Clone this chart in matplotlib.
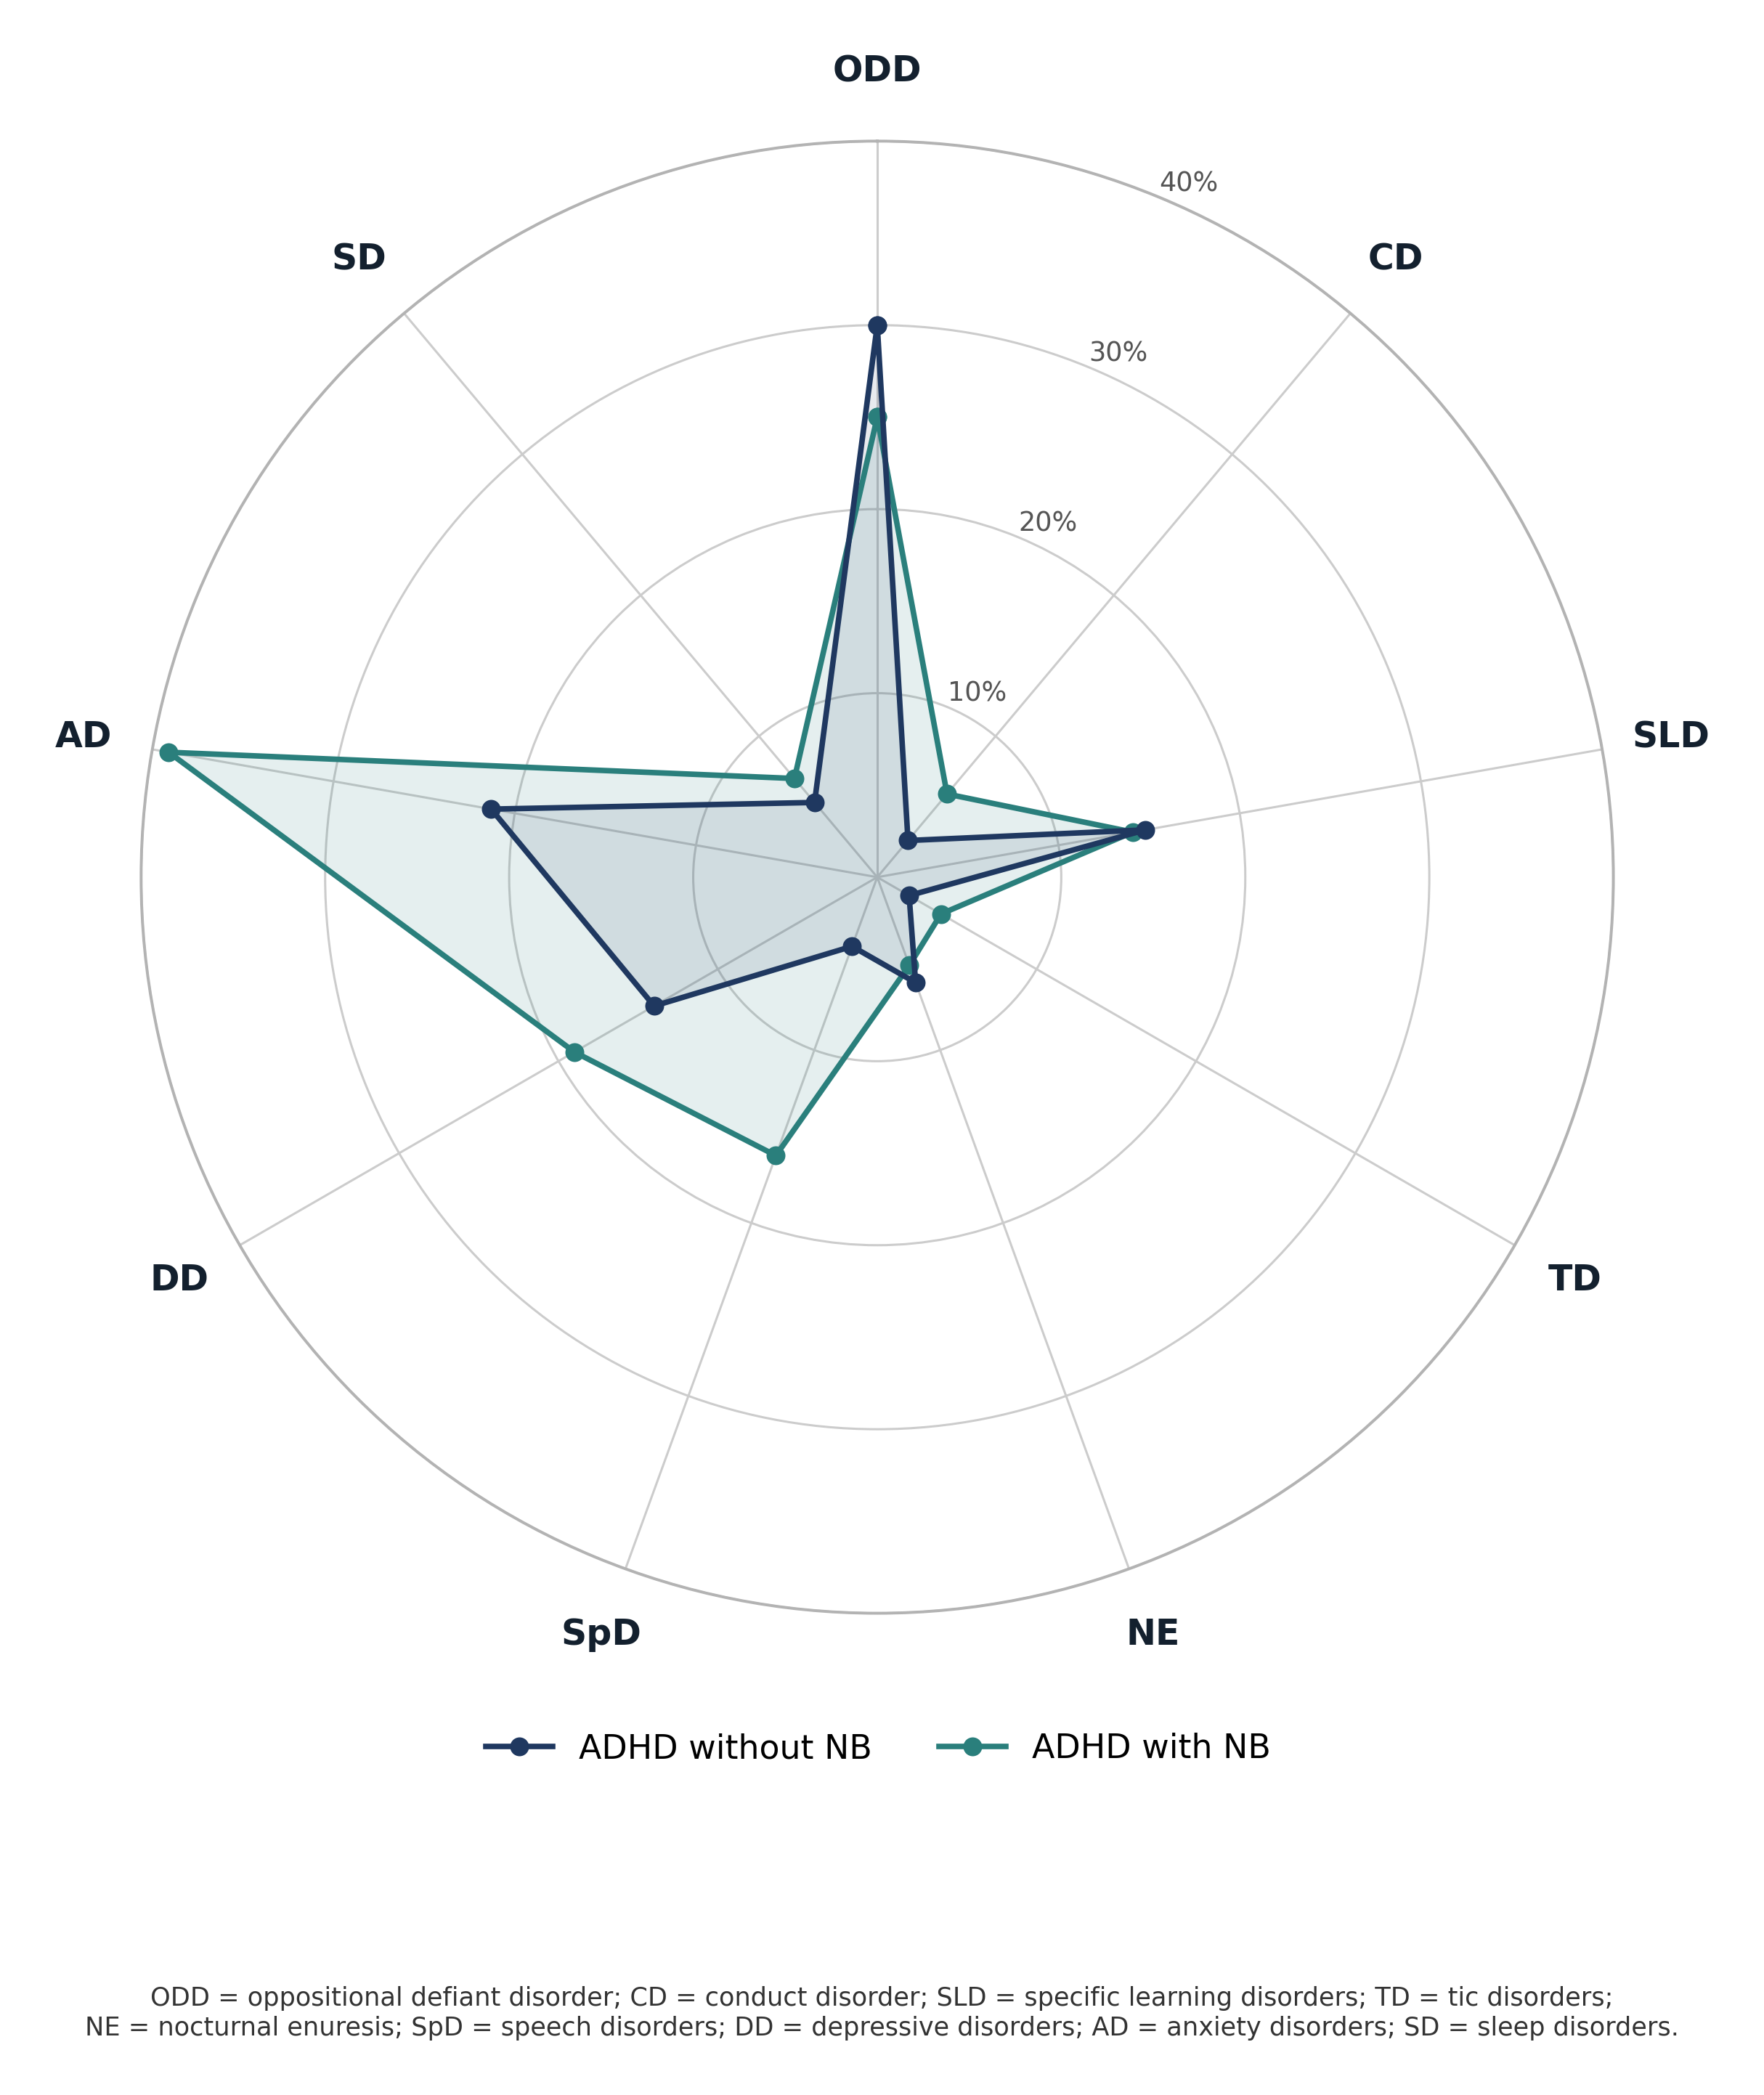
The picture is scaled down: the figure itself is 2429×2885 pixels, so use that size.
import numpy as np
import matplotlib
matplotlib.use('Agg')
import matplotlib.pyplot as plt

# categories, clockwise from the top
categories = ['ODD', 'CD', 'SLD', 'TD', 'NE', 'SpD', 'DD', 'AD', 'SD']
without_nb = [30.0, 2.6, 14.8, 2.0, 6.1, 4.0, 14.0, 21.3, 5.3]
with_nb = [25.0, 5.9, 14.1, 4.0, 5.1, 16.1, 19.0, 39.1, 7.0]
r_ticks = [10, 20, 30, 40]
r_tick_labels = ['10%', '20%', '30%', '40%']
series_names = ['ADHD without NB', 'ADHD with NB']
footnote = ("ODD = oppositional defiant disorder; CD = conduct disorder; SLD = specific learning disorders; TD = tic disorders;\n"
            "NE = nocturnal enuresis; SpD = speech disorders; DD = depressive disorders; AD = anxiety disorders; SD = sleep disorders.")

navy = '#1f3860'
teal = '#2a7f7c'
label_color = '#13202e'

n = len(categories)
angles = np.linspace(0, 2 * np.pi, n, endpoint=False)
angles_closed = np.concatenate([angles, angles[:1]])


def closed(vals):
    return list(vals) + [vals[0]]


fig = plt.figure(figsize=(2429 / 220, 2885 / 220), dpi=220)
ax = fig.add_axes([0.080, 0.2299, 0.8346, 0.7028], projection='polar')
ax.set_theta_zero_location('N')
ax.set_theta_direction(-1)
ax.set_ylim(0, 40)

# fills first, lines on top
ax.fill(angles_closed, closed(with_nb), color=teal, alpha=0.12, zorder=2)
ax.fill(angles_closed, closed(without_nb), color=navy, alpha=0.10, zorder=2)
ax.plot(angles_closed, closed(without_nb), color=navy, lw=2.5, marker='o', ms=7.5,
        label=series_names[0], zorder=4)
ax.plot(angles_closed, closed(with_nb), color=teal, lw=2.5, marker='o', ms=7.5,
        label=series_names[1], zorder=3)

ax.set_xticks(angles)
ax.set_xticklabels([])
ax.set_yticks(r_ticks)
ax.set_yticklabels(r_tick_labels, fontsize=12, color='#555555')
ax.set_rlabel_position(22.5)
ax.grid(True, color='#cccccc', lw=1.0)
ax.spines['polar'].set_color('#b3b3b3')
ax.spines['polar'].set_linewidth(1.3)
ax.tick_params(axis='x', length=0)

for ang, lab in zip(angles, categories):
    ax.text(ang, 43.8, lab, ha='center', va='center', fontsize=16, fontweight='bold',
            color=label_color, clip_on=False)

fig.legend(loc='center', bbox_to_anchor=(0.498, 0.165), ncol=2, frameon=False, fontsize=15,
           handlelength=2.0, columnspacing=2.0)
fig.text(0.5, 0.039, footnote, ha='center', va='center', fontsize=11.5, color='#333333',
         linespacing=1.25)

fig.savefig('out.png', dpi=220, facecolor='white')
